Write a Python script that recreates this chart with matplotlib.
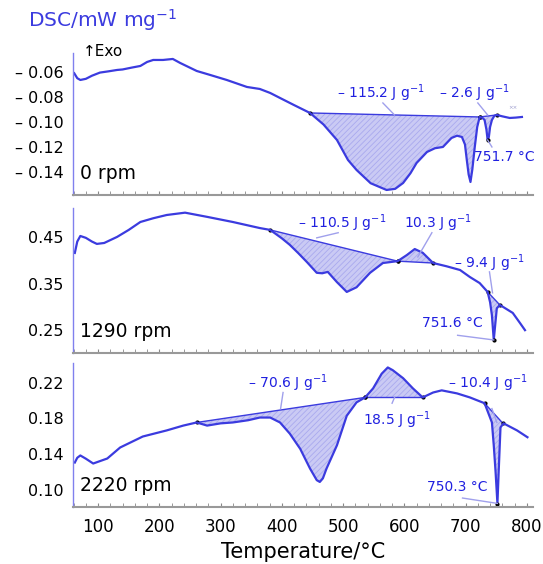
import numpy as np
import matplotlib
matplotlib.use('Agg')
import matplotlib.pyplot as plt

plt.rcParams['hatch.linewidth'] = 0.6

# ---- data ----
rpm_labels = ['0 rpm', '1290 rpm', '2220 rpm']

t0 = [61, 66, 71, 80, 90, 103, 117, 131, 140, 155, 169, 180, 190, 206, 222, 234, 261, 283, 310, 343,
      364, 381, 397, 420, 446, 468, 490, 508, 522, 545, 571, 585, 598, 610, 620, 637, 650, 663, 677,
      686, 694, 699, 702, 705, 708, 711, 715, 719, 723, 727, 731, 734, 736, 738, 740, 743, 747, 751,
      760, 772, 782, 792]
v0 = [-0.061, -0.065, -0.0664, -0.0655, -0.063, -0.0605, -0.0595, -0.0584, -0.058, -0.0565, -0.0552,
      -0.052, -0.0504, -0.0504, -0.0496, -0.0528, -0.0592, -0.0624, -0.0664, -0.072, -0.0736, -0.0768,
      -0.0808, -0.0865, -0.0928, -0.102, -0.1144, -0.1304, -0.1384, -0.149, -0.1544, -0.1535, -0.1488,
      -0.141, -0.1328, -0.124, -0.121, -0.12, -0.1128, -0.111, -0.112, -0.118, -0.1304, -0.142, -0.148,
      -0.138, -0.12, -0.104, -0.096, -0.0965, -0.0984, -0.106, -0.1144, -0.112, -0.104, -0.0984, -0.095,
      -0.0944, -0.0955, -0.0968, -0.0965, -0.096]
base0 = [([446, 723], [-0.0928, -0.096]), ([723, 751], [-0.096, -0.0944])]

t1 = [62, 66, 71, 80, 90, 98, 110, 131, 150, 169, 190, 212, 242, 278, 320, 364, 381, 400, 413, 427,
      441, 457, 466, 475, 490, 506, 522, 544, 565, 589, 604, 617, 630, 647, 669, 691, 707, 723, 736,
      740, 743, 746, 749, 751, 756, 761, 777, 789, 797]
v1 = [0.4156, 0.44, 0.452, 0.448, 0.44, 0.435, 0.437, 0.45, 0.465, 0.482, 0.49, 0.497, 0.502, 0.493,
      0.482, 0.469, 0.465, 0.447, 0.433, 0.415, 0.396, 0.373, 0.372, 0.375, 0.353, 0.332, 0.342, 0.373,
      0.394, 0.398, 0.411, 0.424, 0.416, 0.394, 0.387, 0.379, 0.364, 0.351, 0.332, 0.31, 0.282, 0.229,
      0.27, 0.297, 0.304, 0.300, 0.287, 0.265, 0.25]
base1 = [([381, 589], [0.465, 0.398]), ([589, 647], [0.398, 0.394]), ([736, 756], [0.332, 0.304])]

t2 = [62, 66, 71, 80, 92, 115, 136, 173, 212, 239, 261, 278, 300, 320, 345, 364, 381, 397, 413, 430,
      446, 457, 462, 467, 473, 490, 506, 522, 536, 549, 563, 573, 581, 598, 614, 630, 647, 661, 686,
      707, 731, 743, 746, 749, 752, 754, 757, 762, 784, 801]
v2 = [0.1307, 0.136, 0.1386, 0.135, 0.1296, 0.1352, 0.1475, 0.1598, 0.1666, 0.172, 0.1755, 0.172,
      0.1745, 0.1755, 0.178, 0.181, 0.181, 0.1755, 0.163, 0.146, 0.124, 0.111, 0.109, 0.113, 0.124,
      0.150, 0.183, 0.198, 0.2035, 0.2136, 0.230, 0.237, 0.234, 0.225, 0.2136, 0.2035, 0.209, 0.2114,
      0.208, 0.2035, 0.197, 0.1755, 0.15, 0.12, 0.0848, 0.12, 0.170, 0.1745, 0.1666, 0.159]
base2 = [([261, 536], [0.1755, 0.2035]), ([536, 630], [0.2035, 0.2035]), ([731, 761], [0.197, 0.1745])]

# annotations: text, text position, leader line (x pair, y pair)
ann0 = [('– 115.2 J g$^{-1}$', (562, -0.0768), ([565, 584], [-0.0848, -0.0944])),
        ('– 2.6 J g$^{-1}$', (715, -0.0768), ([720, 736], [-0.0848, -0.0944])),
        ('751.7 °C', (764, -0.128), ([736, 743], [-0.1144, -0.12]))]
ann1 = [('– 110.5 J g$^{-1}$', (498, 0.480), ([457, 492], [0.448, 0.459])),
        ('10.3 J g$^{-1}$', (655, 0.480), ([622, 645], [0.407, 0.459])),
        ('– 9.4 J g$^{-1}$', (739, 0.394), ([739, 744], [0.375, 0.330])),
        ('751.6 °C', (679, 0.265), ([687, 746], [0.239, 0.229]))]
ann2 = [('– 70.6 J g$^{-1}$', (410, 0.219), ([402, 398], [0.209, 0.191])),
        ('18.5 J g$^{-1}$', (588, 0.178), ([580, 584], [0.197, 0.2035])),
        ('– 10.4 J g$^{-1}$', (736, 0.219), ([743, 751], [0.191, 0.1755])),
        ('750.3 °C', (687, 0.103), ([695, 752], [0.091, 0.085]))]

yticks = [[-0.14, -0.12, -0.10, -0.08, -0.06], [0.25, 0.35, 0.45], [0.10, 0.14, 0.18, 0.22]]
yticklabels = [['– 0.14', '– 0.12', '– 0.10', '– 0.08', '– 0.06'],
               ['0.25', '0.35', '0.45'], ['0.10', '0.14', '0.18', '0.22']]
ylims = [(-0.1584, -0.0448), (0.201, 0.512), (0.081, 0.242)]

curves = [(t0, v0, base0, ann0), (t1, v1, base1, ann1), (t2, v2, base2, ann2)]

blue = '#3b3bdf'
leader = '#a0a0ec'

fig = plt.figure(figsize=(5.43, 5.64), dpi=100)
boxes = [[0.1344, 0.6543, 0.8471, 0.2518],
         [0.1344, 0.3741, 0.8471, 0.2571],
         [0.1344, 0.1011, 0.8471, 0.2553]]

for i, (t, v, bases, anns) in enumerate(curves):
    ax = fig.add_axes(boxes[i])
    t = np.array(t, float)
    v = np.array(v, float)
    for bx, by in bases:
        m = (t >= bx[0]) & (t <= bx[1])
        tt = np.concatenate([[bx[0]], t[m], [bx[1]]])
        vv = np.concatenate([[by[0]], v[m], [by[1]]])
        bb = np.interp(tt, bx, by)
        ax.fill_between(tt, vv, bb, facecolor='#cacaf4', edgecolor='#a9a9ee',
                        hatch='//////', linewidth=0)
        ax.plot(bx, by, color=blue, lw=1.0)
        ax.plot(bx, by, 'o', color='black', ms=2)
    ax.plot(t, v, color=blue, lw=1.6)
    # peak marker
    k = np.argmin(v[t > 720]) + np.sum(t <= 720)
    ax.plot(t[k], v[k], 'o', color='black', ms=2)

    for txt, pos, (lx, ly) in anns:
        ax.plot(lx, ly, color=leader, lw=1.0)
        ax.text(pos[0], pos[1], txt, color='#2020e0', fontsize=10, ha='center', va='center')

    ax.text(0.015, 0.15, rpm_labels[i], transform=ax.transAxes, fontsize=13.5,
            ha='left', va='center')

    ax.set_xlim(59, 810)
    ax.set_ylim(*ylims[i])
    ax.set_yticks(yticks[i])
    ax.set_yticklabels(yticklabels[i])
    ax.tick_params(axis='y', length=0, pad=7, labelsize=11.5)
    ax.set_xticks(np.arange(100, 801, 100))
    ax.set_xticks(np.arange(60, 810, 20), minor=True)
    ax.tick_params(axis='x', which='both', direction='in', length=3, color='#888888',
                   pad=8, labelsize=12)
    for s in ['top', 'right']:
        ax.spines[s].set_visible(False)
    ax.spines['left'].set_color('#8080ee')
    ax.spines['left'].set_linewidth(1.0)
    ax.spines['bottom'].set_color('#999999')
    ax.spines['bottom'].set_linewidth(1.5)
    if i < 2:
        ax.tick_params(axis='x', labelbottom=False)
    else:
        ax.set_xlabel('Temperature/°C', fontsize=15, labelpad=4)
    if i == 0:
        ax.text(778, -0.0888, '××', fontsize=4, color='#9999cc', ha='center', va='center')

fig.text(0.0516, 0.9645, 'DSC/mW mg$^{-1}$', color='#3b3bdf', fontsize=14.5, ha='left', va='center')
fig.text(0.153, 0.908, '↑Exo', fontsize=11, ha='left', va='center')

fig.savefig('out.png', dpi=100)
